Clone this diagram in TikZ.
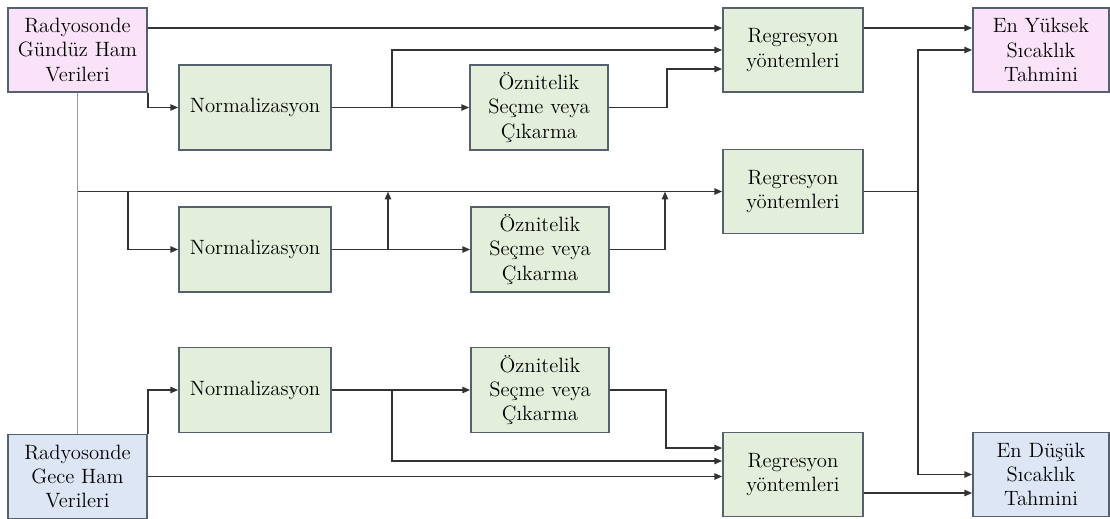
\documentclass[tikz,border=0pt]{standalone}
\usepackage{xcolor}
\usepackage{tikz}
\usetikzlibrary{arrows.meta,positioning}

\definecolor{boxline}{HTML}{56616E}
\definecolor{greenfill}{HTML}{E3EFDA}
\definecolor{pinkfill}{HTML}{FAE3F8}
\definecolor{bluefill}{HTML}{DDE6F4}
\definecolor{wire}{HTML}{333333}

\begin{document}
\begin{tikzpicture}[
    x=0.02cm, y=-0.02cm,
    >={Triangle[length=4.5pt,width=3.6pt]},
    color=wire, line width=0.9pt,
    box/.style={rectangle, draw=boxline, fill=greenfill, inner sep=0pt, align=center, text=black,
                minimum height=1.7cm, font=\rmfamily\fontsize{11.8}{13.8}\selectfont},
    inbox/.style={box, minimum width=2.78cm, minimum height=1.68cm},
    normbox/.style={box, minimum width=3.04cm},
    selbox/.style={box, minimum width=2.76cm},
    regbox/.style={box, minimum width=2.8cm, minimum height=1.68cm},
    outbox/.style={box, minimum width=2.72cm, minimum height=1.68cm}
  ]
    \useasboundingbox (0,0) rectangle (1110,518);

    % Nodes
    \node[inbox, fill=pinkfill] (gunduz) at (77.5,50) {Radyosonde\\Gündüz Ham\\Verileri};
    \node[inbox, fill=bluefill] (gece) at (77.5,476.5) {Radyosonde\\Gece Ham\\Verileri};

    \node[normbox] (norm1) at (255,107.5) {Normalizasyon};
    \node[normbox] (norm2) at (255,249.5) {Normalizasyon};
    \node[normbox] (norm3) at (255,390) {Normalizasyon};

    \node[selbox] (ozn1) at (539,107.5) {Öznitelik\\Seçme veya\\Çıkarma};
    \node[selbox] (ozn2) at (540,249.5) {Öznitelik\\Seçme veya\\Çıkarma};
    \node[selbox] (ozn3) at (540,390) {Öznitelik\\Seçme veya\\Çıkarma};

    \node[regbox] (reg1) at (793,50) {Regresyon\\yöntemleri};
    \node[regbox] (reg2) at (793,191.5) {Regresyon\\yöntemleri};
    \node[regbox] (reg3) at (793,474.5) {Regresyon\\yöntemleri};

    \node[outbox, fill=pinkfill] (yuksek) at (1041,50) {En Yüksek\\Sıcaklık\\Tahmini};
    \node[outbox, fill=bluefill] (dusuk) at (1041,474.5) {En Düşük\\Sıcaklık\\Tahmini};

    % Junctions
    \coordinate (j1) at (392,107.5);
    \coordinate (j3) at (77.5,191.5);
    \coordinate (j4) at (128,191.5);
    \coordinate (j5) at (388,249.5);
    \coordinate (j6) at (665,191.5);
    \coordinate (j7) at (918,191.5);
    \coordinate (j8) at (392,390);

    % Gray link between the two inputs
    \draw[gray!80, line width=0.7pt] (gunduz.south) -- (gece.north);

    % Day branch
    \draw[->] ([yshift=0.44cm]gunduz.east) -- ([yshift=0.44cm]reg1.west);
    \draw[->] (gunduz.south east) |- (norm1.west);
    \draw[->] (norm1.east) -- (ozn1.west);
    \draw[->] (j1) |- (reg1.west);
    \draw[->] (ozn1.east) -- ++(58,0) |- ([yshift=-0.38cm]reg1.west);
    \draw[->] ([yshift=0.44cm]reg1.east) -- ([yshift=0.44cm]yuksek.west);

    % Combined branch
    \draw[->] (j3) -- (reg2.west);
    \draw[->] (j4) |- (norm2.west);
    \draw[->] (norm2.east) -- (ozn2.west);
    \draw[->] (j5) -- (j5 |- reg2.west);
    \draw[->] (ozn2.east) -| (j6);
    \draw (reg2.east) -- (j7);
    \draw[->] (j7) |- (yuksek.west);
    \draw[->] (j7) |- (dusuk.west);

    % Night branch
    \draw[->] (gece.north east) |- (norm3.west);
    \draw[->] (gece.east) -- (gece.east -| reg3.west);
    \draw[->] (norm3.east) -- (ozn3.west);
    \draw[->] (j8) |- ([yshift=0.27cm]reg3.west);
    \draw[->] (ozn3.east) -- ++(56,0) |- ([yshift=0.53cm]reg3.west);
    \draw[->] ([yshift=-0.37cm]reg3.east) -- ([yshift=-0.37cm]dusuk.west);
  \end{tikzpicture}
\end{document}
